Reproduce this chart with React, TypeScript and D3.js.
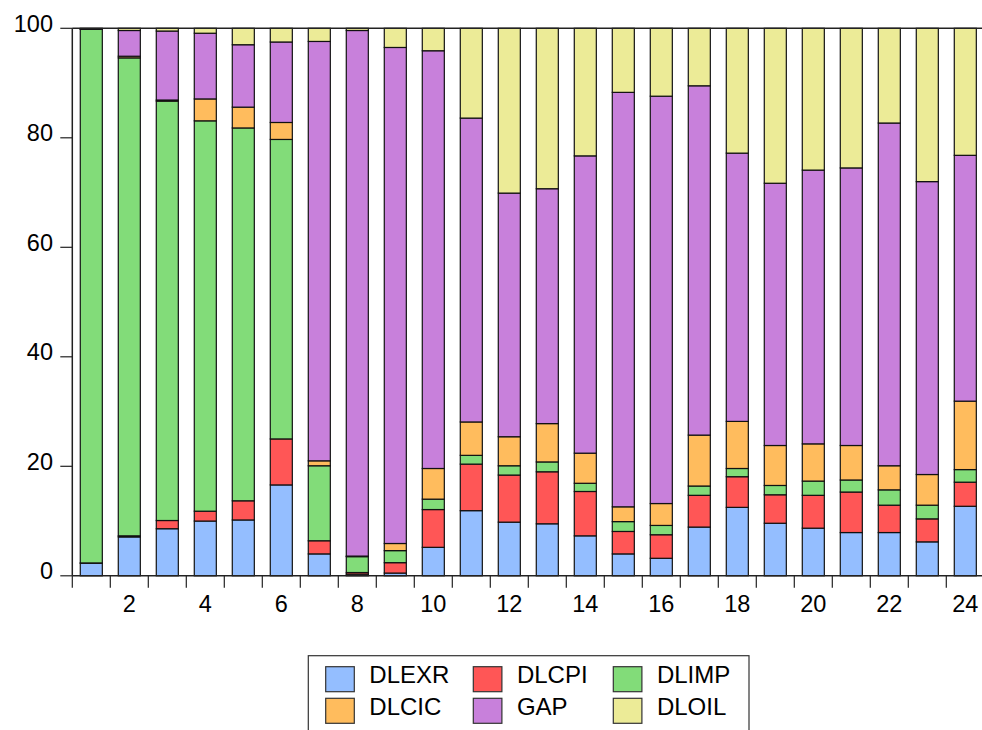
import React, { useRef, useEffect } from "react";
import * as d3 from "d3";

// periods 1..24
const periods = [1, 2, 3, 4, 5, 6, 7, 8, 9, 10, 11, 12, 13, 14, 15, 16, 17, 18, 19, 20, 21, 22, 23, 24];
const xTickLabels = [2, 4, 6, 8, 10, 12, 14, 16, 18, 20, 22, 24];
const yTickValues = [0, 20, 40, 60, 80, 100];

// variance decomposition shares (%)
const DLEXR = [2.3, 7.1, 8.6, 10.0, 10.2, 16.6, 4.0, 0.3, 0.5, 5.2, 11.9, 9.8, 9.5, 7.3, 4.0, 3.2, 8.9, 12.5, 9.6, 8.7, 7.9, 7.9, 6.2, 12.7];
const DLCPI = [0.05, 0.2, 1.5, 1.8, 3.5, 8.4, 2.4, 0.3, 1.9, 6.9, 8.5, 8.6, 9.5, 8.1, 4.1, 4.3, 5.8, 5.6, 5.2, 6.0, 7.4, 5.0, 4.2, 4.4];
const DLIMP = [97.45, 87.3, 76.6, 71.3, 68.1, 54.7, 13.7, 2.9, 2.2, 1.9, 1.6, 1.7, 1.8, 1.5, 1.8, 1.7, 1.7, 1.5, 1.7, 2.6, 2.2, 2.8, 2.5, 2.3];
const DLCIC = [0.05, 0.3, 0.2, 4.0, 3.8, 3.1, 0.9, 0.1, 1.3, 5.6, 6.1, 5.3, 7.0, 5.5, 2.7, 4.0, 9.3, 8.6, 7.3, 6.8, 6.3, 4.4, 5.6, 12.5];
const GAP = [0.1, 4.7, 12.6, 12.0, 11.4, 14.7, 76.6, 96.0, 90.6, 76.3, 55.5, 44.5, 42.9, 54.3, 75.7, 74.4, 63.8, 49.0, 47.9, 50.0, 50.7, 62.6, 53.5, 44.9];
const DLOIL = [0.05, 0.4, 0.5, 0.9, 3.0, 2.5, 2.4, 0.4, 3.5, 4.1, 16.4, 30.1, 29.3, 23.3, 11.7, 12.4, 10.5, 22.8, 28.3, 25.9, 25.5, 17.3, 28.0, 23.2];

const seriesNames = ["DLEXR", "DLCPI", "DLIMP", "DLCIC", "GAP", "DLOIL"];
const seriesValues = [DLEXR, DLCPI, DLIMP, DLCIC, GAP, DLOIL];
const colors = ["#94BEFF", "#FF5656", "#82DC79", "#FFBC5D", "#C880DB", "#ECEB97"];

const W = 982;
const H = 730;
const FONT = "'Liberation Sans', Arial, sans-serif";

export default function App() {
  const svgRef = useRef(null);

  useEffect(() => {
    const svg = d3.select(svgRef.current);
    svg.selectAll("*").remove();

    const left = 72.3, right = 984.3, top = 28.3, bottom = 575.8;

    const table = periods.map((p, i) => {
      const row: any = { period: p };
      seriesNames.forEach((k, j) => (row[k] = seriesValues[j][i]));
      return row;
    });
    const stacked = d3.stack().keys(seriesNames)(table);

    const x = d3.scaleBand().domain(periods.map(String)).range([left, right]).paddingInner(0.42).paddingOuter(0.21);
    const y = d3.scaleLinear().domain([0, 100]).range([bottom, top]);
    const step = x.step();

    // bars
    svg
      .append("g")
      .selectAll("g")
      .data(stacked)
      .join("g")
      .attr("fill", (d, i) => colors[i])
      .selectAll("rect")
      .data((d) => d)
      .join("rect")
      .attr("x", (d: any) => x(String(d.data.period)))
      .attr("width", x.bandwidth())
      .attr("y", (d) => y(d[1]))
      .attr("height", (d) => Math.max(0, y(d[0]) - y(d[1])))
      .attr("stroke", "#111")
      .attr("stroke-width", 1.2);

    const axisColor = "#222";
    // frame lines
    svg.append("line").attr("x1", left).attr("x2", W).attr("y1", top).attr("y2", top).attr("stroke", axisColor).attr("stroke-width", 1.5);
    svg.append("line").attr("x1", left).attr("x2", W).attr("y1", bottom).attr("y2", bottom).attr("stroke", axisColor).attr("stroke-width", 1.5);
    svg.append("line").attr("x1", left).attr("x2", left).attr("y1", top).attr("y2", bottom).attr("stroke", axisColor).attr("stroke-width", 1.5);

    // y axis ticks + labels
    const yg = svg.append("g");
    yg.selectAll("line")
      .data(yTickValues)
      .join("line")
      .attr("x1", left - 12)
      .attr("x2", left)
      .attr("y1", (d) => y(d))
      .attr("y2", (d) => y(d))
      .attr("stroke", axisColor)
      .attr("stroke-width", 1.2);
    yg.selectAll("text")
      .data(yTickValues)
      .join("text")
      .attr("x", 53)
      .attr("y", (d) => y(d) + 3.5)
      .attr("text-anchor", "end")
      .attr("font-family", FONT)
      .attr("font-size", 23.5)
      .attr("fill", "#000")
      .text((d) => d);

    // x axis ticks on band boundaries
    const xg = svg.append("g");
    xg.selectAll("line")
      .data(periods)
      .join("line")
      .attr("x1", (d) => x(String(d)) - step * 0.21)
      .attr("x2", (d) => x(String(d)) - step * 0.21)
      .attr("y1", bottom)
      .attr("y2", bottom + 12)
      .attr("stroke", axisColor)
      .attr("stroke-width", 1.2);
    xg.selectAll("text")
      .data(xTickLabels)
      .join("text")
      .attr("x", (d) => x(String(d)) + x.bandwidth() / 2)
      .attr("y", 612.3)
      .attr("text-anchor", "middle")
      .attr("font-family", FONT)
      .attr("font-size", 23.5)
      .attr("fill", "#000")
      .text((d) => d);

    // legend
    const lg = svg.append("g");
    lg.append("rect")
      .attr("x", 308.3)
      .attr("y", 655.7)
      .attr("width", 440.7)
      .attr("height", 100)
      .attr("fill", "none")
      .attr("stroke", "#333")
      .attr("stroke-width", 1.2);
    const colX = [325.7, 473.3, 613.3];
    const rowY = [666.7, 698.3];
    const items = lg
      .selectAll("g.item")
      .data(seriesNames)
      .join("g")
      .attr("class", "item")
      .attr("transform", (d, i) => `translate(${colX[i % 3]},${rowY[Math.floor(i / 3)]})`);
    items
      .append("rect")
      .attr("width", 28.6)
      .attr("height", 25)
      .attr("fill", (d, i) => colors[i])
      .attr("stroke", "#333")
      .attr("stroke-width", 1.2);
    items
      .append("text")
      .attr("x", 43.6)
      .attr("y", 16.4)
      .attr("font-family", FONT)
      .attr("font-size", 24)
      .attr("fill", "#000")
      .text((d) => d);
  }, []);

  return (
    <svg
      ref={svgRef}
      width={W}
      height={H}
      style={{ position: "absolute", left: 0, top: 0, background: "#fff", overflow: "hidden" }}
    ></svg>
  );
}
